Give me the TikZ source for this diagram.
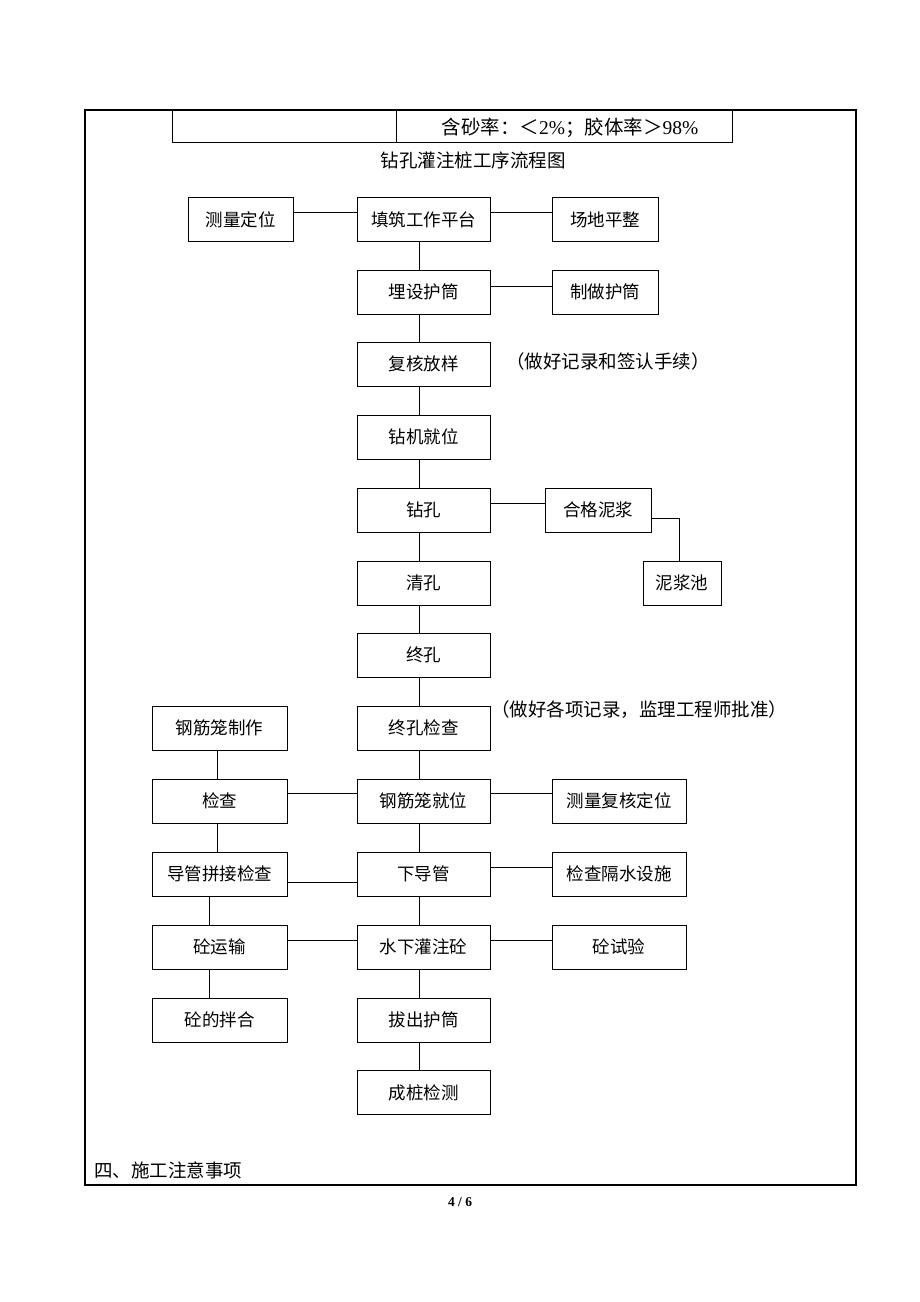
\documentclass[tikz,border=0pt]{standalone}
\usepackage{fontspec}
\setmainfont{Liberation Serif}
\newfontfamily\cjk{Noto Sans CJK SC}
\usetikzlibrary{calc}
\begin{document}
\begin{tikzpicture}[x=1pt,y=-1pt,
  box/.style={draw,line width=0.8pt,minimum height=44pt,inner sep=0pt,font=\cjk\fontsize{17.5}{19}\selectfont},
  cw/.style={minimum width=133pt},
  lw/.style={minimum width=135pt},
  rw/.style={minimum width=134pt},
  sw/.style={minimum width=106pt},
  conn/.style={line width=0.8pt},
  note/.style={font=\cjk\fontsize{18.5}{20}\selectfont,inner sep=0pt,anchor=west}]
\useasboundingbox[fill=white] (0,0) rectangle (920,1302);
% frame
\draw[line width=1.6pt] (85,110) rectangle (856,1185);
\draw[line width=0.7pt] (172,110) rectangle (732,142);
\draw[line width=0.7pt] (396,110) -- (396,142);
\node[inner sep=0pt] (hdr) at (570,128) {\fontsize{19.5}{20}\selectfont{\cjk 含砂率：＜}2\%{\cjk ；胶体率＞}98\%};
\node[inner sep=0pt,font=\cjk\fontsize{18.5}{20}\selectfont] (title) at (473,160) {钻孔灌注桩工序流程图};
% center column
\node[box,cw] (tz) at (423.5,219.5) {填筑工作平台};
\node[box,cw] (ms) at (423.5,292) {埋设护筒};
\node[box,cw] (fh) at (423.5,364) {复核放样};
\node[box,cw] (zj) at (423.5,437) {钻机就位};
\node[box,cw] (zk) at (423.5,510) {钻孔};
\node[box,cw] (qk) at (423.5,583) {清孔};
\node[box,cw] (zh) at (423.5,655) {终孔};
\node[box,cw] (zc) at (423.5,728) {终孔检查};
\node[box,cw] (gj) at (423.5,801) {钢筋笼就位};
\node[box,cw] (xd) at (423.5,874) {下导管};
\node[box,cw] (sx) at (423.5,947) {水下灌注砼};
\node[box,cw] (bc) at (423.5,1020) {拔出护筒};
\node[box,cw] (cz) at (423.5,1092.5) {成桩检测};
% top side boxes
\node[box,minimum width=105pt] (cl) at (240.5,219.5) {测量定位};
\node[box,sw] (cd) at (605,219.5) {场地平整};
\node[box,sw] (zz) at (605,292) {制做护筒};
\node[box,sw] (hg) at (598,510) {合格泥浆};
\node[box,minimum width=78pt] (nj) at (682,583) {泥浆池};
% left column
\node[box,lw] (gz) at (219.5,728) {钢筋笼制作};
\node[box,lw] (jc) at (219.5,801) {检查};
\node[box,lw] (dg) at (219.5,874) {导管拼接检查};
\node[box,lw] (ys) at (219.5,947) {砼运输};
\node[box,lw] (bh) at (219.5,1020) {砼的拌合};
% right column
\node[box,rw] (cf) at (619,801) {测量复核定位};
\node[box,rw] (gs) at (619,874) {检查隔水设施};
\node[box,rw] (sy) at (619,947) {砼试验};
% notes
\node[note] (n1) at (506,361) {（做好记录和签认手续）};
\node[note] (n2) at (491,710) {（做好各项记录，监理工程师批准）};
% connectors center column
\foreach \a/\b in {tz/ms,ms/fh,fh/zj,zj/zk,zk/qk,qk/zh,zh/zc,zc/gj,gj/xd,xd/sx,sx/bc,bc/cz}
  \draw[conn] ([xshift=-4pt]\a.south) -- ([xshift=-4pt]\b.north);
% horizontal connectors
\draw[conn] ([yshift=7pt]cl.east) -- ([yshift=7pt]tz.west);
\draw[conn] ([yshift=7pt]tz.east) -- ([yshift=7pt]cd.west);
\draw[conn] ([yshift=6pt]ms.east) -- ([yshift=6pt]zz.west);
\draw[conn] ([yshift=7pt]zk.east) -- ([yshift=7pt]hg.west);
\draw[conn] ([yshift=-8pt]hg.east) -| ([xshift=-3pt]nj.north);
\draw[conn] ([yshift=8pt]jc.east) -- ([yshift=8pt]gj.west);
\draw[conn] ([yshift=8pt]gj.east) -- ([yshift=8pt]cf.west);
\draw[conn] ([yshift=-8pt]dg.east) -- ([yshift=-8pt]xd.west);
\draw[conn] ([yshift=7pt]xd.east) -- ([yshift=7pt]gs.west);
\draw[conn] ([yshift=7pt]ys.east) -- ([yshift=7pt]sx.west);
\draw[conn] ([yshift=7pt]sx.east) -- ([yshift=7pt]sy.west);
% left column vertical
\draw[conn] ([xshift=-2.5pt]gz.south) -- ([xshift=-2.5pt]jc.north);
\draw[conn] ([xshift=-2.5pt]jc.south) -- ([xshift=-2.5pt]dg.north);
\draw[conn] ([xshift=-10pt]dg.south) -- ([xshift=-10pt]ys.north);
\draw[conn] ([xshift=-10pt]ys.south) -- ([xshift=-10pt]bh.north);
% bottom texts
\node[note] (sec) at (94,1170) {四、施工注意事项};
\node[inner sep=0pt,font=\bfseries\fontsize{13.5}{15}\selectfont] (pg) at (460,1202) {4 / 6};
\end{tikzpicture}
\end{document}
